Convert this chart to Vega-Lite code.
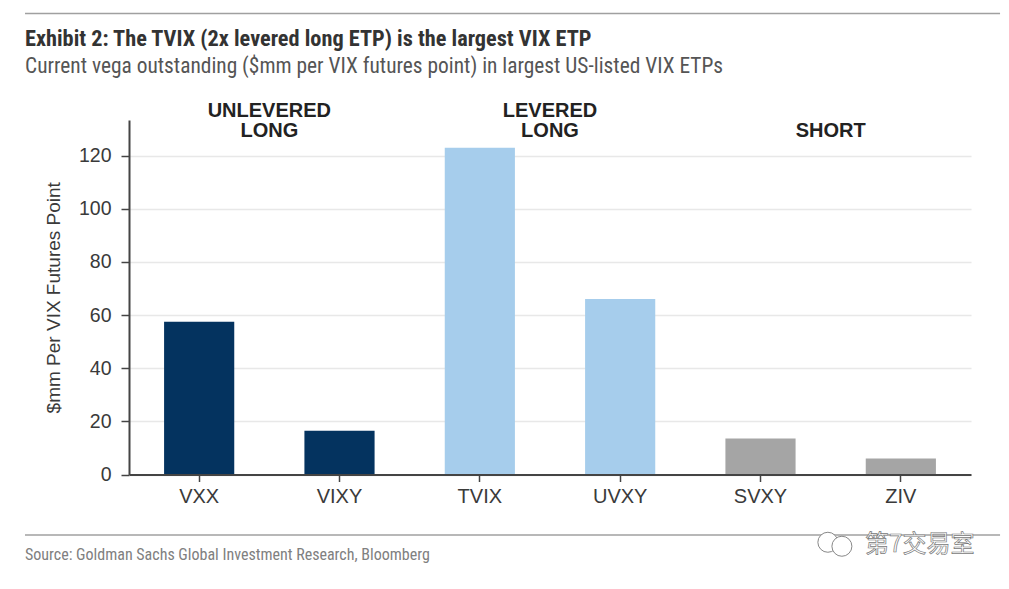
{
  "$schema": "https://vega.github.io/schema/vega-lite/v6.json",
  "width": 842,
  "height": 354.5,
  "autosize": {"type": "none"},
  "padding": {"left": 129, "top": 120, "right": 38, "bottom": 114.5},
  "background": "white",
  "title": {
    "text": "Exhibit 2: The TVIX (2x levered long ETP) is the largest VIX ETP",
    "subtitle": "Current vega outstanding ($mm per VIX futures point) in largest US-listed VIX ETPs",
    "anchor": "start",
    "frame": "group",
    "dx": -104,
    "offset": -65,
    "font": "Roboto Condensed, Roboto",
    "fontSize": 22.3,
    "fontWeight": "bold",
    "color": "#333333",
    "subtitleFont": "Roboto Condensed, Roboto",
    "subtitleFontSize": 21.4,
    "subtitleColor": "#555555",
    "subtitlePadding": 6
  },
  "layer": [
    {
      "data": {"values": [
        {"ticker": "VXX", "vega": 57.5, "group": "Unlevered long"},
        {"ticker": "VIXY", "vega": 16.5, "group": "Unlevered long"},
        {"ticker": "TVIX", "vega": 123, "group": "Levered long"},
        {"ticker": "UVXY", "vega": 66, "group": "Levered long"},
        {"ticker": "SVXY", "vega": 13.5, "group": "Short"},
        {"ticker": "ZIV", "vega": 6, "group": "Short"}
      ]},
      "mark": {"type": "bar"},
      "encoding": {
        "x": {
          "field": "ticker", "type": "nominal", "sort": null,
          "scale": {"paddingInner": 0.5, "paddingOuter": 0.25},
          "axis": {
            "title": null, "labelAngle": 0, "labelFont": "Liberation Sans", "labelFontSize": 20,
            "labelColor": "#3a3a3a", "labelPadding": 5, "tickSize": 7, "tickColor": "#444444", "tickWidth": 1.5,
            "domainColor": "#444444", "domainWidth": 2, "grid": false, "zindex": 1
          }
        },
        "y": {
          "field": "vega", "type": "quantitative",
          "scale": {"domain": [0, 133.4], "nice": false},
          "axis": {
            "title": "$mm Per VIX Futures Point", "titleFont": "Liberation Sans", "titleFontSize": 19,
            "titleFontWeight": "normal", "titleColor": "#3a3a3a", "titlePadding": 15,
            "values": [0, 20, 40, 60, 80, 100, 120],
            "labelFont": "Liberation Sans", "labelFontSize": 19.5, "labelColor": "#3a3a3a", "labelPadding": 10,
            "tickSize": 8, "tickColor": "#444444", "tickWidth": 1.5,
            "domainColor": "#444444", "domainWidth": 2,
            "grid": true, "gridColor": "#e8e8e8", "gridWidth": 1.5
          }
        },
        "color": {
          "field": "group", "type": "nominal", "legend": null,
          "scale": {"domain": ["Unlevered long", "Levered long", "Short"], "range": ["#04335f", "#a6cdec", "#a5a5a5"]}
        }
      }
    },
    {
      "data": {"values": [
        {"from": -0.741, "to": 6.207, "level": 173.5},
        {"from": -0.741, "to": 6.207, "level": -22.8}
      ]},
      "mark": {"type": "rule", "color": "#a0a0a0", "strokeWidth": 1.5, "clip": false},
      "encoding": {
        "x": {"field": "from", "type": "quantitative", "scale": {"domain": [0, 6], "nice": false, "zero": false}, "axis": null},
        "x2": {"field": "to"},
        "y": {"field": "level", "type": "quantitative", "scale": {"domain": [0, 133.4], "nice": false}, "axis": null}
      }
    },
    {
      "data": {"values": [
        {"pos": 1, "level": 136.9, "label": "UNLEVERED"},
        {"pos": 1, "level": 129.4, "label": "LONG"},
        {"pos": 3, "level": 136.9, "label": "LEVERED"},
        {"pos": 3, "level": 129.4, "label": "LONG"},
        {"pos": 5, "level": 129.4, "label": "SHORT"}
      ]},
      "mark": {"type": "text", "font": "Liberation Sans", "fontSize": 20, "fontWeight": "bold", "color": "#222222", "baseline": "middle", "align": "center", "clip": false},
      "encoding": {
        "x": {"field": "pos", "type": "quantitative", "scale": {"domain": [0, 6], "nice": false, "zero": false}, "axis": null},
        "y": {"field": "level", "type": "quantitative", "scale": {"domain": [0, 133.4], "nice": false}, "axis": null},
        "text": {"field": "label"}
      }
    },
    {
      "data": {"values": [
        {"pos": -0.741, "level": -30.3, "label": "Source: Goldman Sachs Global Investment Research, Bloomberg"}
      ]},
      "mark": {"type": "text", "font": "Roboto Condensed, Roboto", "fontSize": 16, "color": "#808080", "baseline": "middle", "align": "left", "clip": false},
      "encoding": {
        "x": {"field": "pos", "type": "quantitative", "scale": {"domain": [0, 6], "nice": false, "zero": false}, "axis": null},
        "y": {"field": "level", "type": "quantitative", "scale": {"domain": [0, 133.4], "nice": false}, "axis": null},
        "text": {"field": "label"}
      }
    },
    {
      "data": {"values": [
        {"pos": 4.98, "level": -25.5, "r": "a"},
        {"pos": 5.08, "level": -27, "r": "b"}
      ]},
      "mark": {"type": "point", "filled": true, "fill": "white", "stroke": "#888888", "strokeWidth": 1, "opacity": 1, "size": 400, "clip": false},
      "encoding": {
        "x": {"field": "pos", "type": "quantitative", "scale": {"domain": [0, 6], "nice": false, "zero": false}, "axis": null},
        "y": {"field": "level", "type": "quantitative", "scale": {"domain": [0, 133.4], "nice": false}, "axis": null}
      }
    },
    {
      "data": {"values": [
        {"pos": 5.635, "level": -26.6, "label": "第7交易室"}
      ]},
      "mark": {"type": "text", "font": "Noto Sans CJK SC", "fontSize": 24, "fill": "white", "stroke": "#777777", "strokeWidth": 0.7, "baseline": "middle", "align": "center", "clip": false},
      "encoding": {
        "x": {"field": "pos", "type": "quantitative", "scale": {"domain": [0, 6], "nice": false, "zero": false}, "axis": null},
        "y": {"field": "level", "type": "quantitative", "scale": {"domain": [0, 133.4], "nice": false}, "axis": null},
        "text": {"field": "label"}
      }
    }
  ],
  "resolve": {"scale": {"x": "independent", "y": "independent", "color": "independent"}},
  "config": {"view": {"stroke": null}}
}
